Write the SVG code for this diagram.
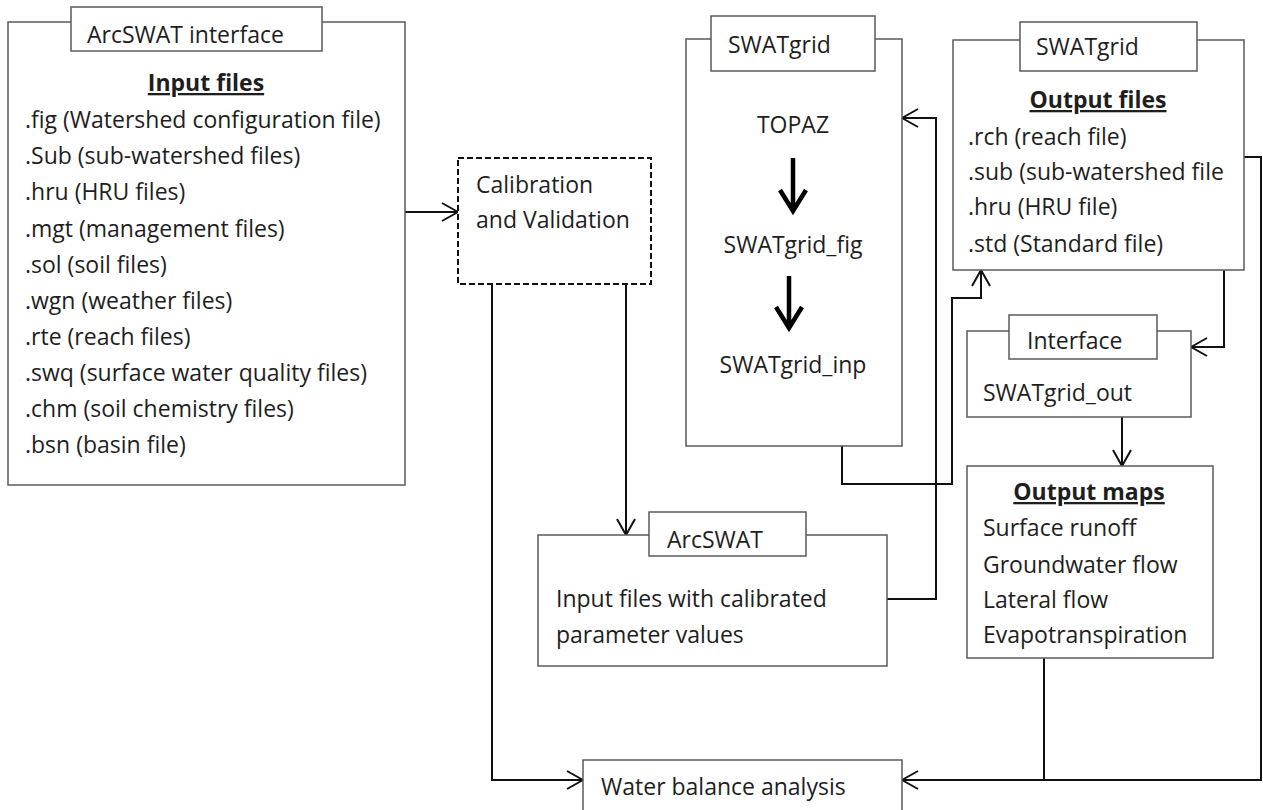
<svg xmlns="http://www.w3.org/2000/svg" width="1263" height="810" viewBox="0 0 1263 810">
<style>
.box{fill:#fff;stroke:#5a5a5a;stroke-width:1.5}
.dash{fill:#fff;stroke:#111;stroke-width:2;stroke-dasharray:6 3}
.t{font-family:"Open Sans","Liberation Sans",sans-serif;font-size:23px;fill:#1e1e1e}
.b{font-weight:bold;text-decoration:underline}
.c{text-anchor:middle}
.con{fill:none;stroke:#111;stroke-width:2}
.thick{fill:none;stroke:#000;stroke-width:4.5}
</style>
<defs>
<marker id="arr" viewBox="0 0 18 20" refX="17" refY="10" markerWidth="18" markerHeight="20" markerUnits="userSpaceOnUse" orient="auto">
<path d="M1,1 L17,10 L1,19" fill="none" stroke="#111" stroke-width="2"/>
</marker>
</defs>
<rect width="1263" height="810" fill="#fff"/>

<g id="connectors">
<path class="con" d="M405,212 H458" marker-end="url(#arr)"/>
<path class="con" d="M492,284 V780 H583" marker-end="url(#arr)"/>
<path class="con" d="M626,284 V535" marker-end="url(#arr)"/>
<path class="con" d="M887,599 H936 V118 H902" marker-end="url(#arr)"/>
<path class="con" d="M842,446 V484 H952 V298 H981 V270" marker-end="url(#arr)"/>
<path class="con" d="M1244,157 H1261 V780 H902" marker-end="url(#arr)"/>
<path class="con" d="M1044,658 V780"/>
<path class="con" d="M1224,270 V347 H1191" marker-end="url(#arr)"/>
<path class="con" d="M1122,417 V466" marker-end="url(#arr)"/>
</g>

<g id="arcswat-interface">
<rect class="box" x="8" y="22" width="397" height="463"/>
<rect class="box" x="71" y="7" width="251" height="44"/>
<text class="t" x="87" y="43">ArcSWAT interface</text>
<text class="t b c" x="206" y="91">Input files</text>
<text class="t" x="25" y="128">.fig (Watershed configuration file)</text>
<text class="t" x="25" y="164">.Sub (sub-watershed files)</text>
<text class="t" x="25" y="200">.hru (HRU files)</text>
<text class="t" x="25" y="237">.mgt (management files)</text>
<text class="t" x="25" y="273">.sol (soil files)</text>
<text class="t" x="25" y="309">.wgn (weather files)</text>
<text class="t" x="25" y="345">.rte (reach files)</text>
<text class="t" x="25" y="381">.swq (surface water quality files)</text>
<text class="t" x="25" y="417">.chm (soil chemistry files)</text>
<text class="t" x="25" y="453">.bsn (basin file)</text>
</g>

<g id="calibration">
<rect class="dash" x="458" y="158" width="193" height="126"/>
<text class="t" x="476" y="193">Calibration</text>
<text class="t" x="476" y="228">and Validation</text>
</g>

<g id="swatgrid-process">
<rect class="box" x="686" y="39" width="216" height="407"/>
<rect class="box" x="711" y="16" width="164" height="55"/>
<text class="t" x="728" y="53">SWATgrid</text>
<text class="t c" x="793" y="133">TOPAZ</text>
<path class="thick" d="M793,158 V211 M780,190 L793,211 L806,190"/>
<text class="t c" x="793" y="253">SWATgrid_fig</text>
<path class="thick" d="M789,276 V328 M776,307 L789,328 L802,307"/>
<text class="t c" x="793" y="373">SWATgrid_inp</text>
</g>

<g id="swatgrid-output">
<rect class="box" x="953" y="40" width="291" height="230"/>
<rect class="box" x="1020" y="22" width="177" height="49"/>
<text class="t" x="1036" y="55">SWATgrid</text>
<text class="t b c" x="1098" y="108">Output files</text>
<text class="t" x="968" y="145">.rch (reach file)</text>
<text class="t" x="968" y="180">.sub (sub-watershed file</text>
<text class="t" x="968" y="215">.hru (HRU file)</text>
<text class="t" x="968" y="252">.std (Standard file)</text>
</g>

<g id="interface">
<rect class="box" x="967" y="331" width="224" height="86"/>
<rect class="box" x="1009" y="315" width="148" height="44"/>
<text class="t" x="1027" y="349">Interface</text>
<text class="t" x="983" y="401">SWATgrid_out</text>
</g>

<g id="output-maps">
<rect class="box" x="967" y="466" width="246" height="192"/>
<text class="t b c" x="1089" y="500">Output maps</text>
<text class="t" x="983" y="536">Surface runoff</text>
<text class="t" x="983" y="573">Groundwater flow</text>
<text class="t" x="983" y="608">Lateral flow</text>
<text class="t" x="983" y="643">Evapotranspiration</text>
</g>

<g id="arcswat">
<rect class="box" x="538" y="535" width="349" height="131"/>
<rect class="box" x="649" y="512" width="157" height="44"/>
<text class="t" x="667" y="548">ArcSWAT</text>
<text class="t" x="556" y="607">Input files with calibrated</text>
<text class="t" x="556" y="643">parameter values</text>
</g>

<g id="water-balance">
<rect class="box" x="583" y="760" width="319" height="60"/>
<text class="t" x="601" y="795">Water balance analysis</text>
</g>
</svg>
